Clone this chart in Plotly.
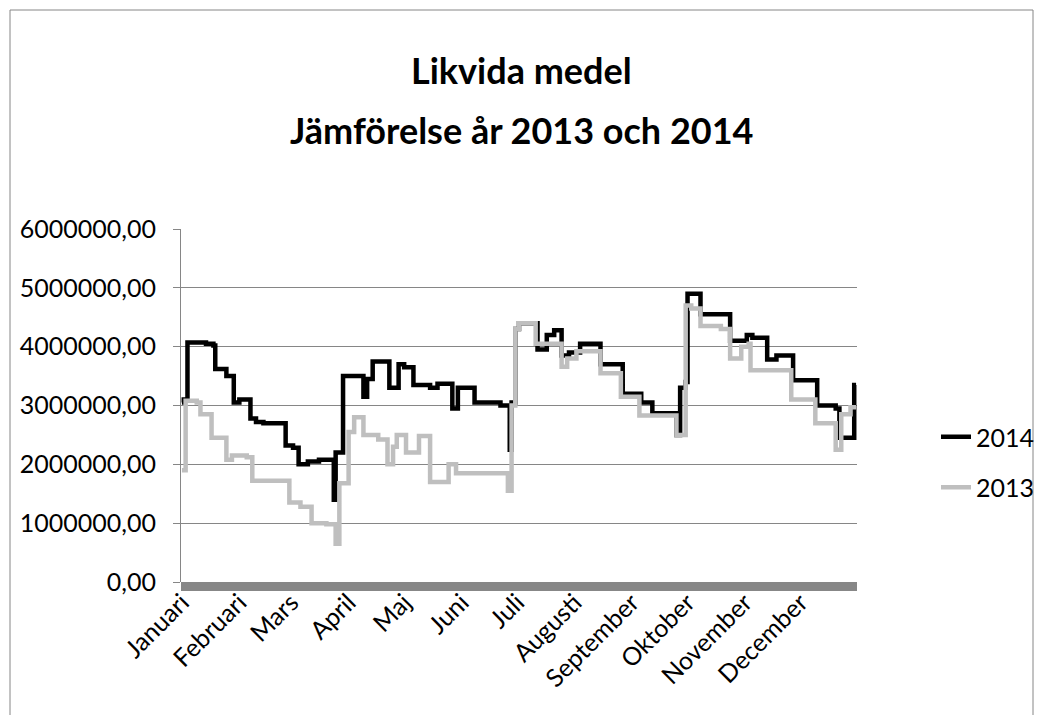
import plotly.graph_objects as go

# day-of-year where the balance changes, and the balance from that day (kr)
days_2014 = [0, 1, 3, 13, 17, 18, 24, 28, 31, 37, 40, 44, 56, 60, 63, 68, 74, 82, 83,
             87, 98, 100, 103, 112, 117, 120, 125, 134, 138, 146, 149, 158, 172, 177, 178,
             180, 182, 192, 197, 201, 205, 209, 215, 226, 238, 248, 254, 267, 269, 272,
             273, 280, 296, 305, 308, 316, 321, 330, 343, 353, 355, 363, 364]
values_2014 = [3050000, 3100000, 4070000, 4050000, 4020000, 3620000, 3500000, 3050000,
               3100000, 2780000, 2720000, 2700000, 2320000, 2280000, 2000000, 2050000,
               2080000, 1400000, 2200000, 3500000, 3150000, 3450000, 3750000, 3300000,
               3700000, 3650000, 3350000, 3300000, 3370000, 2950000, 3300000, 3050000,
               3000000, 2250000, 3050000, 4300000, 4400000, 3950000, 4200000, 4280000,
               3850000, 3900000, 4050000, 3700000, 3200000, 3050000, 2870000, 2500000,
               3300000, 3400000, 4900000, 4550000, 4100000, 4200000, 4150000, 3780000,
               3850000, 3430000, 3000000, 2950000, 2450000, 3350000, 3350000]

days_2013 = [0, 2, 8, 10, 16, 24, 27, 35, 38, 58, 64, 70, 78, 83, 85, 90, 93, 98, 106,
             111, 114, 116, 121, 128, 134, 144, 148, 176, 178, 180, 182, 191, 205, 208,
             213, 226, 237, 247, 267, 272, 275, 280, 291, 296, 302, 306, 307, 329, 342,
             353, 356, 361, 364]
values_2013 = [1900000, 3080000, 3050000, 2850000, 2450000, 2080000, 2150000, 2120000,
               1720000, 1350000, 1280000, 1000000, 980000, 650000, 1680000, 2550000,
               2800000, 2500000, 2420000, 2000000, 2300000, 2500000, 2200000, 2480000,
               1700000, 2000000, 1850000, 1550000, 3000000, 4300000, 4400000, 4050000,
               3660000, 3800000, 3920000, 3550000, 3150000, 2830000, 2500000, 4700000,
               4650000, 4350000, 4300000, 3800000, 4000000, 4050000, 3600000, 3100000,
               2700000, 2250000, 2850000, 2970000, 2970000]

month_starts = [0, 31, 59, 90, 120, 151, 181, 212, 243, 273, 304, 334]
month_names = ["Januari", "Februari", "Mars", "April", "Maj", "Juni", "Juli",
               "Augusti", "September", "Oktober", "November", "December"]
y_ticks = [0, 1000000, 2000000, 3000000, 4000000, 5000000, 6000000]

FONT = "Lato"
GRID = "#868686"

fig = go.Figure()
fig.add_trace(go.Scatter(x=days_2014, y=values_2014, name="2014", mode="lines",
                         line=dict(color="#000000", width=4.5, shape="hv"),
                         legendgroup="a"))
fig.add_trace(go.Scatter(x=days_2013, y=values_2013, name="2013", mode="lines",
                         line=dict(color="#BFBFBF", width=4.5, shape="hv"),
                         legendgroup="b"))

# plot area in screenshot pixels: x 181..857, y 229..582
L, R, T, B = 181, 857, 229, 582
W, H = R - L, B - T
PAGE = 8  # page body margin pushes the svg by this much

shapes = [
    # outer chart frame
    dict(type="rect", xref="paper", yref="paper",
         x0=(10 - L) / W, x1=(1033 - L) / W, y0=-1, y1=(B - 10) / H,
         line=dict(color=GRID, width=1), fillcolor="rgba(0,0,0,0)", layer="below"),
    # thick base bar under the zero line
    dict(type="rect", xref="paper", yref="paper",
         x0=0, x1=1, y0=-9 / H, y1=0,
         line=dict(width=0), fillcolor="#878787"),
]

annotations = [
    dict(text="<b>Likvida medel</b>", xref="paper", yref="paper",
         x=(521 - L) / W, y=(B - 70) / H, yanchor="middle", showarrow=False,
         font=dict(family=FONT, size=36, color="#000000")),
    dict(text="<b>Jämförelse år 2013 och 2014</b>", xref="paper", yref="paper",
         x=(521 - L) / W, y=(B - 130) / H, yanchor="middle", showarrow=False,
         font=dict(family=FONT, size=36, color="#000000")),
]

fig.update_layout(
    width=1045, height=715,
    margin=dict(l=L - PAGE, r=1045 - (R - PAGE), t=T - PAGE, b=715 - (B - PAGE), pad=0),
    paper_bgcolor="white", plot_bgcolor="white",
    font=dict(family=FONT, size=25, color="#000000"),
    separators=", ",
    showlegend=True,
    legend=dict(x=(936 - L) / W, y=(B - 462) / H, xanchor="left", yanchor="middle",
                tracegroupgap=15, font=dict(size=25), bgcolor="rgba(0,0,0,0)"),
    shapes=shapes, annotations=annotations,
    xaxis=dict(range=[-0.5, 364.5], tickvals=month_starts, ticktext=month_names,
               tickangle=-45, showgrid=False, zeroline=False, showline=False,
               ticks="", ticklabelstandoff=0),
    yaxis=dict(range=[0, 6000000], tickvals=y_ticks, tickformat=".2f",
               showgrid=True, gridcolor=GRID, gridwidth=1, zeroline=False,
               showline=True, linecolor=GRID, linewidth=1,
               ticks="outside", ticklen=7, tickcolor=GRID, ticklabelstandoff=12),
)

fig.write_html("out.html")
